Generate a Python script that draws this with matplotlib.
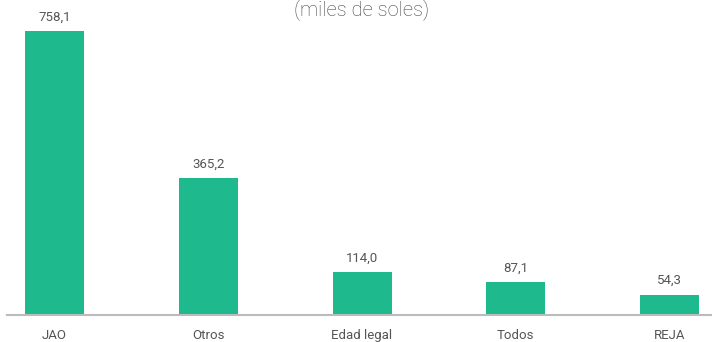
import matplotlib
matplotlib.use("Agg")
import matplotlib.pyplot as plt

categorias = ["JAO", "Otros", "Edad legal", "Todos", "REJA"]
valores = [758.1, 365.2, 114.0, 87.1, 54.3]
etiquetas = ["758,1", "365,2", "114,0", "87,1", "54,3"]

W, H = 712, 342
fig = plt.figure(figsize=(W / 100, H / 100), dpi=100)
base = 315
ax = fig.add_axes([7 / W, (H - base) / H, (W - 7) / W, base / H])

x = list(range(len(categorias)))
ax.bar(x, valores, width=0.384, color="#1EBA8E")
ax.set_xlim(-0.309, 4.276)
ax.set_ylim(0, base / 0.3745)

for xi, v, t in zip(x, valores, etiquetas):
    ax.annotate(t, (xi, v), xytext=(0, 5.5), textcoords="offset points",
                ha="center", va="bottom", fontsize=9.5, color="#555555",
                family="Roboto")

for s in ["top", "right", "left"]:
    ax.spines[s].set_visible(False)
ax.spines["bottom"].set_color("#bbbbbb")
ax.spines["bottom"].set_linewidth(1.5)
ax.set_yticks([])
ax.set_xticks(x)
ax.set_xticklabels(categorias, fontsize=9.5, color="#555555", family="Roboto")
ax.tick_params(axis="x", length=0, pad=9.8)

fig.text(362 / W, 1 - 15 / H, "(miles de soles)", ha="center", va="baseline",
         fontsize=14.5, color="#444444", family="Roboto", fontweight="light")

fig.savefig("out.png", dpi=100)
